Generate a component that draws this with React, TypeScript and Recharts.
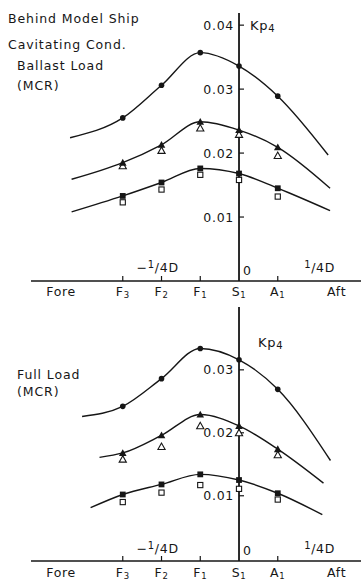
import React from 'react';
import {
  ComposedChart,
  Line,
  Scatter,
  XAxis,
  YAxis,
  ReferenceLine,
  ReferenceDot,
} from 'recharts';

// Measuring stations along the hull (station units, S1 = 0)
const stationX = [-3, -2, -1, 0, 1];
const foreX = -4.59;
const aftX = 2.52;
const tickValues = [foreX, ...stationX, aftX];
const tickNames = ['Fore', 'F', 'F', 'F', 'S', 'A', 'Aft'];
const tickSubs = ['', '3', '2', '1', '1', '1', ''];
const quarterDX = [-2.1, 2.08];

// Ballast load (MCR)
const ballastCircle = [0.0255, 0.0306, 0.0357, 0.0336, 0.0289];
const ballastTriFilled = [0.0185, 0.0213, 0.0249, 0.0236, 0.0209];
const ballastTriOpen = [0.018, 0.0204, 0.0239, 0.0229, 0.0196];
const ballastSqFilled = [0.0133, 0.0154, 0.0176, 0.0168, 0.0145];
const ballastSqOpen = [0.0123, 0.0143, 0.0166, 0.0158, 0.0132];
const ballastCircleEnds = [[-4.36, 0.0224], [2.3, 0.0197]];
const ballastTriEnds = [[-4.32, 0.0159], [2.35, 0.0145]];
const ballastSqEnds = [[-4.32, 0.0108], [2.35, 0.011]];
const ballastTicks = [0.01, 0.02, 0.03, 0.04];

// Full load (MCR)
const fullCircle = [0.0242, 0.0286, 0.0334, 0.0316, 0.0269];
const fullTriFilled = [0.0168, 0.0196, 0.0229, 0.0211, 0.0174];
const fullTriOpen = [0.0158, 0.0178, 0.0211, 0.02, 0.0165];
const fullSqFilled = [0.0102, 0.0118, 0.0134, 0.0125, 0.0104];
const fullSqOpen = [0.009, 0.0105, 0.0117, 0.0111, 0.0094];
const fullCircleEnds = [[-4.05, 0.0226], [2.36, 0.0156]];
const fullTriEnds = [[-3.6, 0.0161], [2.18, 0.012]];
const fullSqEnds = [[-3.83, 0.0081], [2.15, 0.007]];
const fullTicks = [0.01, 0.02, 0.03];

const INK = '#161616';
const FONT = '"DejaVu Sans", sans-serif';
const xDomain: [number, number] = [-5.368, 3.148];

const points = (vals: number[]) => stationX.map((x, i) => ({ x, y: vals[i] }));
const curve = (ends: number[][], vals: number[]) => [
  { x: ends[0][0], y: ends[0][1] },
  ...points(vals),
  { x: ends[1][0], y: ends[1][1] },
];

const textStyle = { fontFamily: FONT, fontSize: 12.5, fill: INK, letterSpacing: 0.7 };

// Marker shapes
const DotMark = (p: any) => <circle cx={p.cx} cy={p.cy} r={2.8} fill={INK} />;
const triPts = (cx: number, cy: number, s: number) =>
  `${cx},${cy - s} ${cx - s},${cy + s * 0.8} ${cx + s},${cy + s * 0.8}`;
const TriFilledMark = (p: any) => <polygon points={triPts(p.cx, p.cy, 3.8)} fill={INK} />;
const TriOpenMark = (p: any) => (
  <polygon points={triPts(p.cx, p.cy, 3.6)} fill="#fff" stroke={INK} strokeWidth={1.1} />
);
const SqFilledMark = (p: any) => (
  <rect x={p.cx - 2.9} y={p.cy - 2.9} width={5.8} height={5.8} fill={INK} />
);
const SqOpenMark = (p: any) => (
  <rect x={p.cx - 2.6} y={p.cy - 2.6} width={5.2} height={5.2} fill="#fff" stroke={INK} strokeWidth={1.1} />
);

const makeStationTick = (gap: number) => (props: any) => {
  const { x, y, payload } = props;
  const i = tickValues.indexOf(payload.value);
  if (i < 0) return <g />;
  const isStation = tickSubs[i] !== '';
  return (
    <g>
      {isStation && payload.value !== 0 && (
        <line x1={x} x2={x} y1={y} y2={y - 5} stroke={INK} strokeWidth={1.2} />
      )}
      <text x={x} y={y + gap} textAnchor="middle" style={textStyle}>
        {tickNames[i]}
        {isStation && (
          <tspan fontSize={8.5} dy={1.5}>
            {tickSubs[i]}
          </tspan>
        )}
      </text>
    </g>
  );
};

const yTickShape = (label: string) => (p: any) => (
  <g>
    <line x1={p.cx} x2={p.cx + 5} y1={p.cy} y2={p.cy} stroke={INK} strokeWidth={1.2} />
    <text x={p.cx - 5} y={p.cy + 4.5} textAnchor="end" style={textStyle}>
      {label}
    </text>
  </g>
);

const kpShape = (dx: number, dy: number) => (p: any) => (
  <text x={p.cx + dx} y={p.cy + dy} style={{ ...textStyle, fontSize: 13 }}>
    Kp
    <tspan fontSize={10} dy={2}>
      4
    </tspan>
  </text>
);

const quarterShape = (neg: boolean, lift: number) => (p: any) => (
  <text x={p.cx} y={p.cy - lift} textAnchor="middle" style={textStyle}>
    {neg ? '\u2212' : ''}
    <tspan fontSize={10} dy={-4}>
      1
    </tspan>
    <tspan dy={4}>/4D</tspan>
  </text>
);

const zeroShape = (lift: number) => (p: any) => (
  <text x={p.cx + 4} y={p.cy - lift} style={textStyle}>
    0
  </text>
);

type PanelProps = {
  width: number;
  height: number;
  top: number;
  yDomain: [number, number];
  axisHeight: number;
  labelGap: number;
  quarterLift: number;
  zeroLift: number;
  kpAt: number;
  kpDx: number;
  yTicks: number[];
  circle: number[];
  triFilled: number[];
  triOpen: number[];
  sqFilled: number[];
  sqOpen: number[];
  circleEnds: number[][];
  triEnds: number[][];
  sqEnds: number[][];
};

function Panel(props: PanelProps) {
  const {
    width, height, top, yDomain, axisHeight, labelGap, quarterLift, zeroLift, kpAt, kpDx, yTicks,
    circle, triFilled, triOpen, sqFilled, sqOpen, circleEnds, triEnds, sqEnds,
  } = props;
  const base = yDomain[0];
  return (
    <ComposedChart
      width={width}
      height={height}
      margin={{ top, right: 0, bottom: 0, left: 31 }}
      style={{ overflow: 'visible' }}
    >
      <XAxis
        type="number"
        dataKey="x"
        domain={xDomain}
        allowDataOverflow
        ticks={tickValues}
        interval={0}
        tickLine={false}
        tickSize={0}
        tickMargin={0}
        height={axisHeight}
        axisLine={{ stroke: INK, strokeWidth: 1.5 }}
        tick={makeStationTick(labelGap)}
      />
      <YAxis type="number" dataKey="y" domain={yDomain} allowDataOverflow hide />
      <ReferenceLine x={0} stroke={INK} strokeWidth={1.8} />
      {yTicks.map((v) => (
        <ReferenceDot key={v} x={0} y={v} shape={yTickShape(v.toFixed(2))} />
      ))}
      <ReferenceDot x={0} y={kpAt} shape={kpShape(kpDx, 5)} />
      <ReferenceDot x={quarterDX[0]} y={base} shape={quarterShape(true, quarterLift)} />
      <ReferenceDot x={quarterDX[1]} y={base} shape={quarterShape(false, quarterLift)} />
      <ReferenceDot x={0} y={base} shape={zeroShape(zeroLift)} />

      <Line data={curve(circleEnds, circle)} dataKey="y" type="monotone" dot={false}
        stroke={INK} strokeWidth={1.4} isAnimationActive={false} />
      <Line data={curve(triEnds, triFilled)} dataKey="y" type="monotone" dot={false}
        stroke={INK} strokeWidth={1.4} isAnimationActive={false} />
      <Line data={curve(sqEnds, sqFilled)} dataKey="y" type="monotone" dot={false}
        stroke={INK} strokeWidth={1.4} isAnimationActive={false} />

      <Scatter data={points(circle)} dataKey="y" shape={DotMark} isAnimationActive={false} />
      <Scatter data={points(triOpen)} dataKey="y" shape={TriOpenMark} isAnimationActive={false} />
      <Scatter data={points(triFilled)} dataKey="y" shape={TriFilledMark} isAnimationActive={false} />
      <Scatter data={points(sqOpen)} dataKey="y" shape={SqOpenMark} isAnimationActive={false} />
      <Scatter data={points(sqFilled)} dataKey="y" shape={SqFilledMark} isAnimationActive={false} />
    </ComposedChart>
  );
}

const noteStyle: React.CSSProperties = {
  position: 'absolute',
  fontFamily: FONT,
  fontSize: 12.5,
  lineHeight: '14px',
  letterSpacing: 0.9,
  color: INK,
  whiteSpace: 'nowrap',
};

export default function App() {
  return (
    <div
      style={{
        position: 'fixed',
        left: 0,
        top: 0,
        width: 361,
        height: 581,
        background: '#fff',
        overflow: 'hidden',
      }}
    >
      <div style={{ position: 'absolute', left: 0, top: 0 }}>
        <Panel
          width={361}
          height={300}
          top={13}
          yDomain={[0, 0.0419]}
          axisHeight={19}
          labelGap={15}
          quarterLift={9}
          zeroLift={6}
          kpAt={0.04}
          kpDx={11}
          yTicks={ballastTicks}
          circle={ballastCircle}
          triFilled={ballastTriFilled}
          triOpen={ballastTriOpen}
          sqFilled={ballastSqFilled}
          sqOpen={ballastSqOpen}
          circleEnds={ballastCircleEnds}
          triEnds={ballastTriEnds}
          sqEnds={ballastSqEnds}
        />
      </div>
      <div style={{ position: 'absolute', left: 0, top: 300 }}>
        <Panel
          width={361}
          height={281}
          top={7}
          yDomain={[-0.00036, 0.03998]}
          axisHeight={20}
          labelGap={16}
          quarterLift={8}
          zeroLift={6}
          kpAt={0.0344}
          kpDx={19}
          yTicks={fullTicks}
          circle={fullCircle}
          triFilled={fullTriFilled}
          triOpen={fullTriOpen}
          sqFilled={fullSqFilled}
          sqOpen={fullSqOpen}
          circleEnds={fullCircleEnds}
          triEnds={fullTriEnds}
          sqEnds={fullSqEnds}
        />
      </div>
      <div style={{ ...noteStyle, left: 8, top: 12 }}>Behind Model Ship</div>
      <div style={{ ...noteStyle, left: 8, top: 38 }}>Cavitating Cond.</div>
      <div style={{ ...noteStyle, left: 17, top: 59 }}>Ballast Load</div>
      <div style={{ ...noteStyle, left: 17, top: 79 }}>(MCR)</div>
      <div style={{ ...noteStyle, left: 17, top: 368 }}>Full Load</div>
      <div style={{ ...noteStyle, left: 17, top: 385 }}>(MCR)</div>
    </div>
  );
}
